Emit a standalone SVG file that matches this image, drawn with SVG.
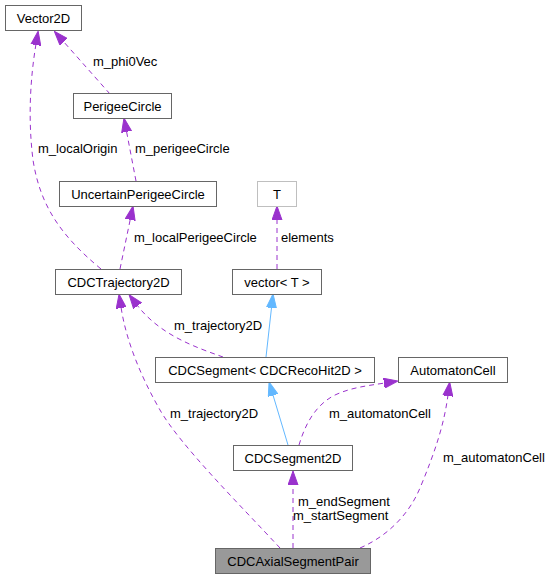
<svg xmlns="http://www.w3.org/2000/svg" width="551" height="579" viewBox="0 0 551 579">
<style>
text{font-family:"Liberation Sans",Arial,Helvetica,sans-serif;font-size:13px;fill:#000}
.node rect{fill:#fff;stroke:#666;stroke-width:1}
.node text{text-anchor:middle}
.node.ghost rect{stroke:#bfbfbf}
.node.main rect{fill:#999}
.edges path.uses{fill:none;stroke:#9a32cd;stroke-width:1;stroke-dasharray:5,4;marker-end:url(#ap)}
.edges path.inh{fill:none;stroke:#63b8ff;stroke-width:1;marker-end:url(#ab)}
</style>
<defs>
<marker id="ap" viewBox="0 0 14 11" refX="1" refY="5.5" markerWidth="14" markerHeight="11" markerUnits="userSpaceOnUse" orient="auto">
<path d="M0,0.5 L14,5.5 L0,10.5 z" fill="#9a32cd" stroke="#9a32cd" stroke-width="1"/>
</marker>
<marker id="ab" viewBox="0 0 14 11" refX="1" refY="5.5" markerWidth="14" markerHeight="11" markerUnits="userSpaceOnUse" orient="auto">
<path d="M0,0.5 L14,5.5 L0,10.5 z" fill="#63b8ff" stroke="#63b8ff" stroke-width="1"/>
</marker>
</defs>
<rect width="551" height="579" fill="#fff"/>
<g class="edges">
<path class="uses" d="M110,94 L63,41"/>
<path class="uses" d="M101,269 C60,235 40,205 33,160 C28,120 30,80 36,44"/>
<path class="uses" d="M136,181 L126.4,130.8"/>
<path class="uses" d="M120,269 L130.4,218.7"/>
<path class="uses" d="M277,269 L277,219"/>
<path class="inh" d="M266,357 L271.6,306.9"/>
<path class="uses" d="M223,357 C195,347 160,335 137,305"/>
<path class="inh" d="M288,445 L272.8,394.4"/>
<path class="uses" d="M299,445 C305,425 315,405 335,395 C350,388 365,386 385,383"/>
<path class="uses" d="M280,548 C240,505 180,445 160,410 C140,375 126,340 121,307"/>
<path class="uses" d="M293,548 L293,484"/>
<path class="uses" d="M360,548 C390,535 410,512 420,488 C435,452 444,425 448,395"/>
<text x="93" y="66">m_phi0Vec</text>
<text x="38" y="153">m_localOrigin</text>
<text x="135" y="153">m_perigeeCircle</text>
<text x="134" y="242">m_localPerigeeCircle</text>
<text x="281" y="242">elements</text>
<text x="174" y="330">m_trajectory2D</text>
<text x="170" y="418">m_trajectory2D</text>
<text x="329" y="418">m_automatonCell</text>
<text x="443" y="462">m_automatonCell</text>
<text x="298" y="506">m_endSegment</text>
<text x="293" y="520">m_startSegment</text>
</g>
<g id="Vector2D" class="node"><rect x="5.5" y="5.5" width="76" height="25"/><text x="43.5" y="22.5">Vector2D</text></g>
<g id="PerigeeCircle" class="node"><rect x="73.5" y="93.5" width="98" height="25"/><text x="122.5" y="110.5">PerigeeCircle</text></g>
<g id="UncertainPerigeeCircle" class="node"><rect x="59.5" y="181.5" width="157" height="25"/><text x="138" y="198.5">UncertainPerigeeCircle</text></g>
<g id="T" class="node ghost"><rect x="257.5" y="181.5" width="39" height="25"/><text x="277" y="198.5">T</text></g>
<g id="CDCTrajectory2D" class="node"><rect x="55.5" y="269.5" width="126" height="25"/><text x="118.5" y="286.5">CDCTrajectory2D</text></g>
<g id="vectorT" class="node"><rect x="232.5" y="269.5" width="89" height="25"/><text x="277" y="286.5">vector&lt; T &gt;</text></g>
<g id="CDCSegment" class="node"><rect x="155.5" y="357.5" width="219" height="25"/><text x="265" y="374.5">CDCSegment&lt; CDCRecoHit2D &gt;</text></g>
<g id="AutomatonCell" class="node"><rect x="398.5" y="357.5" width="109" height="25"/><text x="453" y="374.5">AutomatonCell</text></g>
<g id="CDCSegment2D" class="node"><rect x="233.5" y="445.5" width="119" height="25"/><text x="293" y="462.5">CDCSegment2D</text></g>
<g id="CDCAxialSegmentPair" class="node main"><rect x="215.5" y="548.5" width="155" height="25"/><text x="293" y="565.5">CDCAxialSegmentPair</text></g>
</svg>
